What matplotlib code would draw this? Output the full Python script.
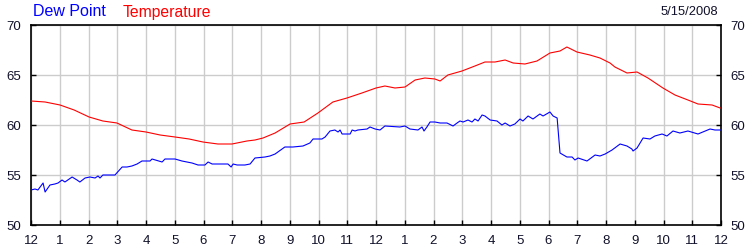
import matplotlib
matplotlib.use("Agg")
import matplotlib.pyplot as plt

# Hours since midnight and readings (deg F)
temp_hours = [0.0, 0.49, 1.01, 1.5, 2.02, 2.5, 2.99, 3.51, 4.0, 4.49, 5.01, 5.5, 5.98, 6.5,
              6.99, 7.51, 7.79, 8.07, 8.49, 9.01, 9.5, 9.98, 10.5, 10.99, 11.51, 12.0,
              12.31, 12.66, 13.01, 13.36, 13.7, 14.05, 14.23, 14.5, 14.99, 15.44, 15.79,
              16.14, 16.49, 16.77, 17.18, 17.6, 18.05, 18.4, 18.64, 18.99, 19.44, 19.79,
              20.14, 20.31, 20.73, 21.08, 21.46, 21.98, 22.4, 22.85, 23.2, 23.69, 23.97]
temp_values = [62.4, 62.3, 62.0, 61.5, 60.8, 60.4, 60.2, 59.5, 59.3, 59.0, 58.8, 58.6, 58.3, 58.1,
               58.1, 58.4, 58.5, 58.7, 59.2, 60.1, 60.3, 61.2, 62.3, 62.7, 63.2, 63.7,
               63.9, 63.7, 63.8, 64.5, 64.7, 64.6, 64.4, 65.0, 65.4, 65.9, 66.3,
               66.3, 66.5, 66.2, 66.1, 66.4, 67.2, 67.4, 67.8, 67.3, 67.0, 66.7,
               66.2, 65.8, 65.2, 65.3, 64.7, 63.7, 63.0, 62.5, 62.1, 62.0, 61.7]

dew_hours = [0.0, 0.14, 0.24, 0.42, 0.49, 0.66, 0.83, 0.94, 1.08, 1.18, 1.43, 1.6, 1.7, 1.88,
             2.05, 2.23, 2.33, 2.4, 2.5, 2.75, 2.92, 3.17, 3.34, 3.51, 3.69, 3.86, 4.14,
             4.21, 4.56, 4.66, 5.01, 5.25, 5.6, 5.81, 6.05, 6.16, 6.3, 6.85, 6.96, 7.03,
             7.17, 7.44, 7.62, 7.79, 8.14, 8.31, 8.49, 8.83, 9.11, 9.46, 9.7, 9.81, 9.98,
             10.12, 10.23, 10.4, 10.57, 10.68, 10.75, 10.82, 11.1, 11.17, 11.27, 11.37,
             11.69, 11.79, 11.97, 12.14, 12.31, 12.83, 13.01, 13.18, 13.46, 13.6, 13.67,
             13.77, 13.88, 14.05, 14.23, 14.47, 14.68, 14.82, 14.92, 15.03, 15.2, 15.34,
             15.44, 15.55, 15.69, 15.79, 15.97, 16.21, 16.38, 16.49, 16.66, 16.83, 17.01,
             17.11, 17.29, 17.46, 17.7, 17.81, 18.05, 18.16, 18.3, 18.4, 18.64, 18.82,
             18.92, 19.03, 19.34, 19.62, 19.79, 19.97, 20.21, 20.49, 20.73, 20.9, 20.94,
             21.08, 21.29, 21.53, 21.7, 21.95, 22.12, 22.33, 22.57, 22.85, 23.2, 23.37,
             23.62, 23.79, 23.97]
dew_values = [53.5, 53.6, 53.5, 54.2, 53.3, 54.0, 54.1, 54.2, 54.5, 54.3, 54.8, 54.5, 54.3, 54.7,
              54.8, 54.7, 54.9, 54.7, 55.0, 55.0, 55.0, 55.8, 55.8, 55.9, 56.1, 56.4, 56.4,
              56.6, 56.3, 56.6, 56.6, 56.4, 56.2, 56.0, 56.0, 56.3, 56.1, 56.1, 55.8, 56.1,
              56.0, 56.0, 56.1, 56.7, 56.8, 56.9, 57.1, 57.8, 57.8, 57.9, 58.2, 58.6, 58.6,
              58.6, 58.8, 59.4, 59.5, 59.3, 59.5, 59.1, 59.1, 59.5, 59.4, 59.5,
              59.6, 59.8, 59.6, 59.5, 59.9, 59.8, 59.9, 59.6, 59.5, 59.8, 59.4,
              59.8, 60.3, 60.3, 60.2, 60.2, 59.9, 60.2, 60.4, 60.3, 60.5, 60.3,
              60.6, 60.4, 61.0, 60.9, 60.5, 60.4, 60.0, 60.2, 59.9, 60.1, 60.6,
              60.4, 60.9, 60.6, 61.1, 60.9, 61.3, 60.9, 60.7, 57.2, 56.8, 56.8,
              56.5, 56.7, 56.4, 57.0, 56.9, 57.1, 57.5, 58.1, 57.9, 57.6, 57.4,
              57.7, 58.7, 58.6, 58.9, 59.1, 58.9, 59.4, 59.2, 59.4, 59.1, 59.3,
              59.6, 59.5, 59.5]

hour_ticks = list(range(0, 25))
hour_labels = ["12", "1", "2", "3", "4", "5", "6", "7", "8", "9", "10", "11",
               "12", "1", "2", "3", "4", "5", "6", "7", "8", "9", "10", "11", "12"]
y_ticks = [50, 55, 60, 65, 70]

plt.rcParams['font.family'] = ['Liberation Sans', 'DejaVu Sans']

fig = plt.figure(figsize=(7.5, 2.5), dpi=100)
ax = fig.add_axes([31 / 750, 25 / 250, 690 / 750, 200 / 250])

ax.plot(temp_hours, temp_values, color='#ff0000', lw=0.8, zorder=3)
ax.plot(dew_hours, dew_values, color='#0000ff', lw=0.8, zorder=3)

ax.set_xlim(0, 24)
ax.set_ylim(50, 70)
ax.set_xticks(hour_ticks)
ax.set_xticklabels(hour_labels)
ax.set_yticks(y_ticks)
ax.grid(True, color='#cccccc', lw=1.0, zorder=0)
ax.set_axisbelow(True)

label_color = '#10102a'
ax.tick_params(axis='x', direction='in', length=3.5, width=1, color='black',
               labelsize=9.5, labelcolor=label_color, pad=7)
ax.tick_params(axis='y', direction='in', length=3.5, width=1, color='black',
               labelsize=9.5, labelcolor=label_color, pad=7,
               left=True, right=True, labelleft=True, labelright=True)
for s in ax.spines.values():
    s.set_color('black')
    s.set_linewidth(1.2)

fig.text(33 / 750, 1 - 12 / 250, "Dew Point", color='#0000ff', fontsize=11.5, va='center', ha='left')
fig.text(123 / 750, 1 - 12 / 250, "Temperature", color='#ff0000', fontsize=11.3, va='center', ha='left')
fig.text(718 / 750, 1 - 12 / 250, "5/15/2008", color=label_color, fontsize=9.3, va='center', ha='right')

fig.savefig("out.png", dpi=100)
